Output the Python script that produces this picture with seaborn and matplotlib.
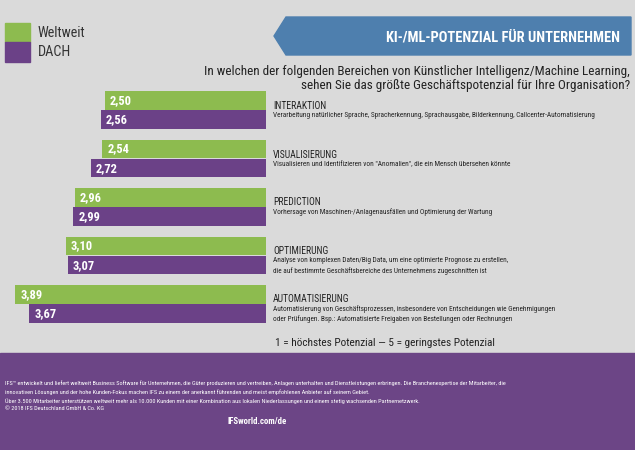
import pandas as pd
import seaborn as sns
import matplotlib.pyplot as plt
from matplotlib.patches import Rectangle, Polygon

# Data
bereiche = ["INTERAKTION", "VISUALISIERUNG", "PREDICTION", "OPTIMIERUNG", "AUTOMATISIERUNG"]
weltweit = [2.50, 2.54, 2.96, 3.10, 3.89]
dach = [2.56, 2.72, 2.99, 3.07, 3.67]
regionen = ["Weltweit", "DACH"]
beschreibungen = [
    "Verarbeitung natürlicher Sprache, Spracherkennung, Sprachausgabe, Bilderkennung, Callcenter-Automatisierung",
    'Visualisieren und Identifizieren von "Anomalien", die ein Mensch übersehen könnte',
    "Vorhersage von Maschinen-/Anlagenausfällen und Optimierung der Wartung",
    "Analyse von komplexen Daten/Big Data, um eine optimierte Prognose zu erstellen,\n"
    "die auf bestimmte Geschäftsbereiche des Unternehmens zugeschnitten ist",
    "Automatisierung von Geschäftsprozessen, insbesondere von Entscheidungen wie Genehmigungen\n"
    "oder Prüfungen. Bsp.: Automatisierte Freigaben von Bestellungen oder Rechnungen",
]
titel = "KI-/ML-POTENZIAL FÜR UNTERNEHMEN"
frage = ("In welchen der folgenden Bereichen von Künstlicher Intelligenz/Machine Learning,\n"
         "sehen Sie das größte Geschäftspotenzial für Ihre Organisation?")
skala = "1 = höchstes Potenzial — 5 = geringstes Potenzial"
footer_lines = [
    "IFS™ entwickelt und liefert weltweit Business Software für Unternehmen, die Güter produzieren und vertreiben, "
    "Anlagen unterhalten und Dienstleistungen erbringen. Die Branchenexpertise der Mitarbeiter, die",
    "innovativen Lösungen und der hohe Kunden-Fokus machen IFS zu einem der anerkannt führenden und meist "
    "empfohlenen Anbieter auf seinem Gebiet.",
    "Über 3.500 Mitarbeiter unterstützen weltweit mehr als 10.000 Kunden mit einer Kombination aus lokalen "
    "Niederlassungen und einem stetig wachsenden Partnernetzwerk.",
    "© 2018 IFS Deutschland GmbH & Co. KG",
]
url = "IFSworld.com/de"

GREEN = "#8dbb4f"
PURPLE = "#6b4187"
BLUE = "#4e7fae"
BG = "#dadada"
FOOTER = "#6c4586"
TEXT = "#222222"

W, H = 635, 450


def fx(x):
    return x / W


def fy(y):
    return 1 - y / H


sns.set_theme(style="white")
plt.rcParams['font.family'] = ['Roboto Condensed', 'Liberation Sans Narrow',
                               'Roboto', 'DejaVu Sans']

df = pd.DataFrame({
    "bereich": bereiche * 2,
    "wert": weltweit + dach,
    "region": [regionen[0]] * len(bereiche) + [regionen[1]] * len(bereiche),
})

fig = plt.figure(figsize=(6.35, 4.5), dpi=100, facecolor=BG)
renderer = fig.canvas.get_renderer()


def fit(t, width_px):
    # shrink/grow a text so it spans about width_px pixels
    bb = t.get_window_extent(renderer)
    t.set_fontsize(t.get_fontsize() * width_px / bb.width)
    return t


# bars: zero at x=266px, 64.5 px per unit, groups 48.5 px apart
ax = fig.add_axes([0, fy(328.25), fx(266), (328.25 - 85.75) / H])
sns.barplot(data=df, y="bereich", x="wert", hue="region", order=bereiche,
            hue_order=regionen, palette=[GREEN, PURPLE], orient="h",
            width=0.8, gap=0.05, saturation=1, linewidth=0, legend=False, ax=ax)
ax.set_xlim(266 / 64.5, 0)
ax.set_ylim(len(bereiche) - 0.5, -0.5)
ax.axis("off")
ax.set_facecolor("none")

val_size = None
for cont, werte in zip(ax.containers, [weltweit, dach]):
    for bar, v in zip(cont, werte):
        t = ax.annotate(f"{v:.2f}".replace(".", ","),
                        xy=(bar.get_width(), bar.get_y() + bar.get_height() / 2),
                        xytext=(3.6, 0), textcoords="offset points",
                        ha="left", va="center", color="white",
                        fontsize=9, fontweight="bold")
        if val_size is None:
            val_size = fit(t, 22).get_fontsize()
        t.set_fontsize(val_size)

# category labels and descriptions
title_y = [106, 155, 202, 251, 299]
t = fig.text(fx(273), fy(title_y[-1]), bereiche[-1], fontsize=8, color=TEXT,
             va="center")
cat_size = fit(t, 76).get_fontsize()
d = fig.text(fx(273), fy(title_y[0] + 6), beschreibungen[0], fontsize=6,
             color=TEXT, va="top")
desc_size = fit(d, 320).get_fontsize()
for i, (b, desc, y) in enumerate(zip(bereiche, beschreibungen, title_y)):
    if i < len(bereiche) - 1:
        fig.text(fx(273), fy(y), b, fontsize=cat_size, color=TEXT, va="center")
    if i > 0:
        fig.text(fx(273), fy(y + 6), desc, fontsize=desc_size, color=TEXT,
                 va="top", linespacing=1.5)

t = fig.text(fx(275), fy(343), skala, fontsize=10, color=TEXT, va="center")
fit(t, 220)

# legend
for i, (reg, col) in enumerate(zip(regionen, [GREEN, PURPLE])):
    fig.patches.append(Rectangle((fx(5), fy(42 + i * 19.5)), fx(25), 19 / H,
                                 transform=fig.transFigure, color=col))
    t = fig.text(fx(38), fy(33 + i * 19.5), reg, fontsize=11, color="#333333",
                 va="center")
    if i == 0:
        leg_size = fit(t, 48).get_fontsize()
    t.set_fontsize(leg_size)

# title banner
banner = Polygon([(fx(274), fy(36)), (fx(286), fy(17)), (fx(631), fy(17)),
                  (fx(631), fy(55)), (fx(286), fy(55))],
                 closed=True, transform=fig.transFigure, color=BLUE)
fig.patches.append(banner)
t = fig.text(fx(620), fy(37), titel, fontsize=12, fontweight="bold",
             color="white", ha="right", va="center")
fit(t, 234)

t = fig.text(fx(630), fy(78), frage, fontsize=10, color=TEXT, ha="right",
             va="center", multialignment="right", linespacing=1.1)
fit(t, 425)

# footer
fig.patches.append(Rectangle((0, 0), 1, (H - 353) / H,
                             transform=fig.transFigure, color=FOOTER))
foot_size = None
for line, y in zip(footer_lines, [383, 392, 401, 409]):
    t = fig.text(fx(5), fy(y), line, fontsize=4.5, color="white", va="center")
    if foot_size is None:
        foot_size = fit(t, 505).get_fontsize()
    t.set_fontsize(foot_size)
t = fig.text(fx(257), fy(421), url, fontsize=8.5, fontweight="bold",
             color="white", ha="center", va="center")
fit(t, 59)

fig.savefig("out.png", dpi=100, facecolor=BG)
